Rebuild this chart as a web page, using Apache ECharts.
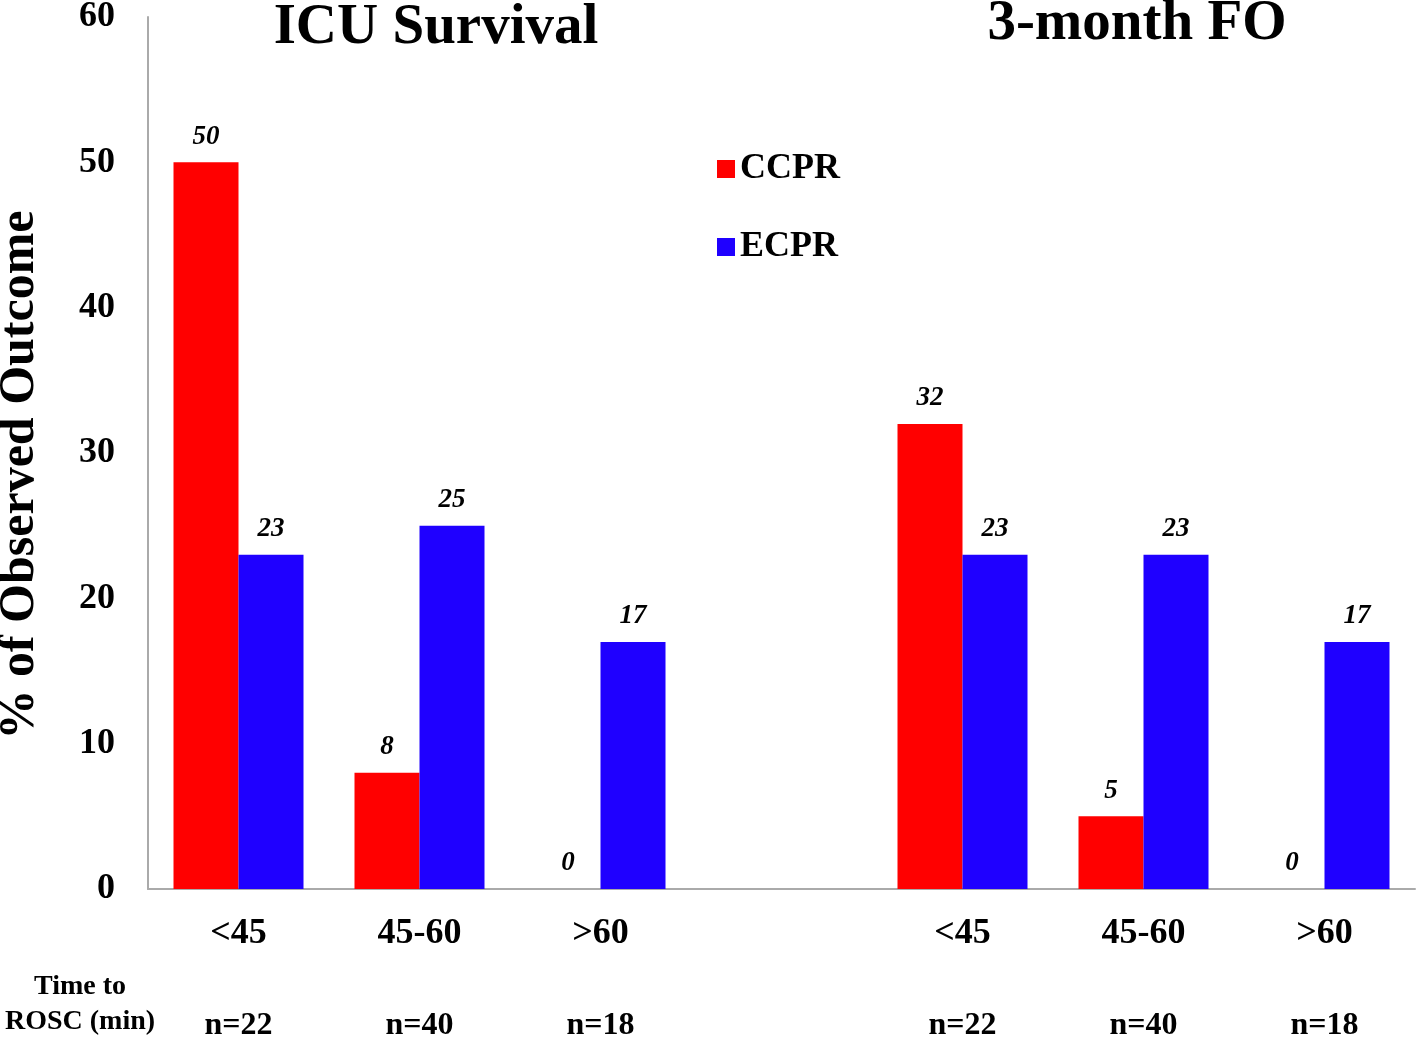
<!DOCTYPE html>
<html><head><meta charset="utf-8">
<script src="https://cdn.jsdelivr.net/npm/echarts@6/dist/echarts.min.js"></script>
<style>html,body{margin:0;padding:0;background:#fff}#c{width:1418px;height:1039px}</style>
</head><body><div id="c"></div>
<script>
const categories = ['<45','45-60','>60','','<45','45-60','>60'];
const nLabels = ['n=22','n=40','n=18','','n=22','n=40','n=18'];
const ccpr = [50, 8, 0, null, 32, 5, 0];
const ecpr = [23, 25, 17, null, 23, 23, 17];
const panelTitles = ['ICU Survival', '3-month FO'];
const yTitle = '% of Observed Outcome';
const xTitle = 'Time to\nROSC (min)';

const F = "'Liberation Serif','Times New Roman',serif";
const chart = echarts.init(document.getElementById('c'));
const lbl = {show:true, position:'top', distance:12, color:'#000', fontFamily:F, fontWeight:'bold', fontStyle:'italic', fontSize:27};
chart.setOption({
  animation:false,
  backgroundColor:'#fff',
  title:[
    {text:panelTitles[0], left:431, top:-5, textAlign:'center', textStyle:{fontFamily:F, fontWeight:'bold', fontSize:57, color:'#000'}},
    {text:panelTitles[1], left:1132, top:-9, textAlign:'center', textStyle:{fontFamily:F, fontWeight:'bold', fontSize:57, color:'#000'}}
  ],
  legend:{orient:'vertical', left:712, top:146, itemWidth:18, itemHeight:18, itemGap:42, icon:'rect',
    textStyle:{fontFamily:F, fontWeight:'bold', fontSize:36, color:'#000', padding:[0,0,0,0]}},
  grid:{left:148, right:3, top:17, bottom:150, containLabel:false, outerBoundsMode:'none'},
  xAxis:[
    {type:'category', data:categories, axisLine:{show:true, lineStyle:{color:'#aaa', width:2}}, axisTick:{show:false},
      axisLabel:{margin:27, color:'#000', fontFamily:F, fontWeight:'bold', fontSize:36, interval:0}},
    {type:'category', data:nLabels, position:'bottom', offset:96, axisLine:{show:false}, axisTick:{show:false},
      axisLabel:{margin:25, color:'#000', fontFamily:F, fontWeight:'bold', fontSize:32, interval:0}}
  ],
  yAxis:{type:'value', min:0, max:60, interval:10,
    axisLine:{show:true, lineStyle:{color:'#aaa', width:2}}, axisTick:{show:false}, splitLine:{show:false},
    axisLabel:{margin:33, color:'#000', fontFamily:F, fontWeight:'bold', fontSize:36}},
  series:[
    {name:'CCPR', type:'bar', data:ccpr, barWidth:65, barGap:'0%', itemStyle:{color:'#ff0000'}, label:lbl, xAxisIndex:0},
    {name:'ECPR', type:'bar', data:ecpr, barWidth:65, barGap:'0%', itemStyle:{color:'#1f00ff'}, label:lbl, xAxisIndex:0}
  ],
  graphic:[
    {type:'text', x:80, y:969, style:{text:xTitle, textAlign:'center', fill:'#000', font:'bold 28px '+F, lineHeight:35}},
    {type:'text', x:20, y:475, rotation:Math.PI/2, style:{text:yTitle, textAlign:'center', textVerticalAlign:'middle', fill:'#000', font:'bold 50px '+F}}
  ]
});
</script></body></html>
